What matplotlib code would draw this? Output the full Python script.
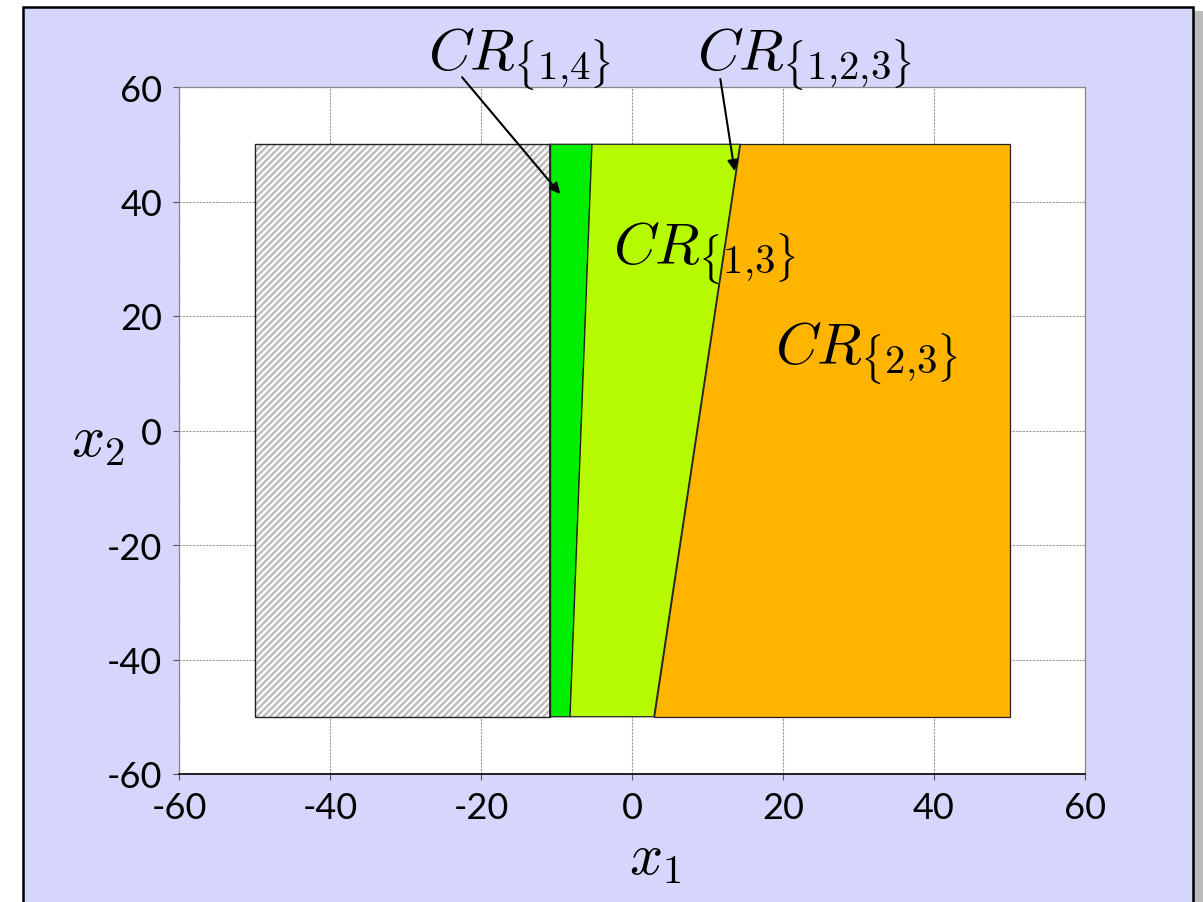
import matplotlib.pyplot as plt
from matplotlib.patches import Rectangle, Polygon

plt.rcParams["mathtext.fontset"] = "cm"
plt.rcParams["axes.unicode_minus"] = False
plt.rcParams["hatch.linewidth"] = 1.8

# -------------------------
# Data
# -------------------------

box_x = [-50, 50]
box_y = [-50, 50]

# region boundaries: x at bottom (y=-50) and top (y=50)
b_hatch = [-10.9, -10.9]
b_green = [-8.2, -5.3]
b_lime = [2.9, 14.3]

region_colors = ["#00ee00", "#b6fa00", "#ffb400"]

ticks = [-60, -40, -20, 0, 20, 40, 60]

# text, left/baseline position, arrow tail, arrow tip
labels = [
    (r"$CR_{\{1{,}4\}}$", (-27.0, 63.1), (-22.5, 61.7), (-9.5, 41.3)),
    (r"$CR_{\{1{,}2{,}3\}}$", (8.6, 63.1), (11.7, 61.4), (13.6, 45.3)),
    (r"$CR_{\{1{,}3\}}$", (-2.5, 29.1), None, None),
    (r"$CR_{\{2{,}3\}}$", (18.9, 11.6), None, None),
]

# -------------------------
# Figure
# -------------------------

fig = plt.figure(figsize=(12.03, 9.03), dpi=100, facecolor="white")
frame = Rectangle((23 / 1203, -0.05), (1193 - 23) / 1203, 1.05 - 8 / 903,
                  transform=fig.transFigure, facecolor="#d6d6fc",
                  edgecolor="black", linewidth=1.8, zorder=-2)
fig.patches.append(frame)
shadow = Rectangle((1194 / 1203, -0.05), 9 / 1203, 1.05 - 12 / 903,
                   transform=fig.transFigure, facecolor="#bbbbbb",
                   edgecolor="none", zorder=-3)
fig.patches.append(shadow)

ax = fig.add_axes([179 / 1203, 1 - 775 / 903, 906 / 1203, 687 / 903])
ax.set_zorder(1)
ax.set_facecolor("white")
ax.set_xlim(-60, 60)
ax.set_ylim(-60, 60)
ax.set_xticks(ticks)
ax.set_yticks(ticks)
ax.grid(True, color="#999999", linestyle=(0, (2, 1)), linewidth=0.8)
ax.set_axisbelow(True)

for side in ["top", "right", "left"]:
    ax.spines[side].set_color("#888888")
    ax.spines[side].set_linestyle((0, (2, 1)))
    ax.spines[side].set_linewidth(0.9)
ax.spines["bottom"].set_color("black")
ax.spines["bottom"].set_linewidth(1.2)

ax.tick_params(labelsize=26, length=4, pad=8, color="#555555")
for lab in ax.get_xticklabels() + ax.get_yticklabels():
    lab.set_fontfamily("Lato")

# hatched region
y0, y1 = box_y
hatch_poly = [(box_x[0], y0), (b_hatch[0], y0), (b_hatch[1], y1), (box_x[0], y1)]
ax.add_patch(Polygon(hatch_poly, closed=True, facecolor="white",
                     edgecolor="#bdbdbd", hatch="/////", linewidth=0, zorder=2))
ax.add_patch(Polygon(hatch_poly, closed=True, facecolor="none",
                     edgecolor="#222222", linewidth=1.0, zorder=3))

# coloured regions
bounds = [b_hatch, b_green, b_lime, [box_x[1], box_x[1]]]
for i, color in enumerate(region_colors):
    left, right = bounds[i], bounds[i + 1]
    poly = [(left[0], y0), (right[0], y0), (right[1], y1), (left[1], y1)]
    ax.add_patch(Polygon(poly, closed=True, facecolor=color,
                         edgecolor="#222222", linewidth=0.9, zorder=2))

# region labels
for text, pos, tail, tip in labels:
    ax.text(pos[0], pos[1], text, fontsize=42, ha="left", va="baseline",
            zorder=5, clip_on=False)
    if tail is not None:
        ax.annotate("", xy=tip, xytext=tail, annotation_clip=False,
                    arrowprops=dict(arrowstyle="-|>", color="black",
                                    lw=1.5, mutation_scale=16,
                                    shrinkA=0, shrinkB=0), zorder=5)

fig.text(655 / 1203, 1 - 858 / 903, r"$x_1$", fontsize=42,
         ha="center", va="center")
fig.text(98 / 1203, 1 - 440 / 903, r"$x_2$", fontsize=42,
         ha="center", va="center")

plt.savefig("out.png", dpi=100, facecolor=fig.get_facecolor())
plt.close()
